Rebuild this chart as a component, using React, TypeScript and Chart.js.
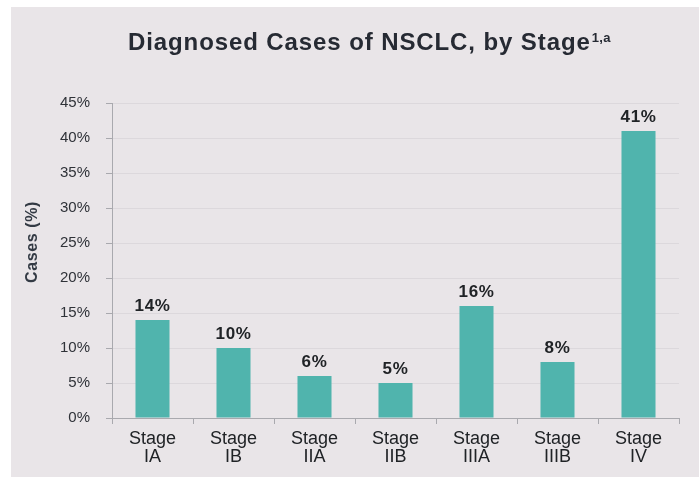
import React, { useEffect, useRef } from "react";
import { Chart, registerables } from "chart.js";

Chart.register(...registerables);

const stages: string[][] = [
  ["Stage", "IA"],
  ["Stage", "IB"],
  ["Stage", "IIA"],
  ["Stage", "IIB"],
  ["Stage", "IIIA"],
  ["Stage", "IIIB"],
  ["Stage", "IV"],
];
const casesPct: number[] = [14, 10, 6, 5, 16, 8, 41];
const yTickStep = 5;
const yMax = 45;

const TITLE = "Diagnosed Cases of NSCLC, by Stage";
const TITLE_SUP = "1,a";
const Y_TITLE = "Cases (%)";

const FONT = "'Liberation Sans', Arial, Helvetica, sans-serif";
const BAR_COLOR = "#50b4ad";
const TEXT_DARK = "#202326";
const BG = "#e9e5e8";

const textPlugin = {
  id: "slideText",
  afterDatasetsDraw(chart: any) {
    const ctx = chart.ctx as CanvasRenderingContext2D;
    const meta = chart.getDatasetMeta(0);
    ctx.save();
    ctx.fillStyle = TEXT_DARK;
    ctx.font = `bold 17px ${FONT}`;
    ctx.textAlign = "center";
    ctx.textBaseline = "alphabetic";
    (ctx as any).letterSpacing = "0.6px";
    meta.data.forEach((bar: any, i: number) => {
      ctx.fillText(`${casesPct[i]}%`, bar.x, bar.y - 9);
    });
    ctx.restore();
  },
  afterDraw(chart: any) {
    const ctx = chart.ctx as CanvasRenderingContext2D;
    ctx.save();
    // heading
    ctx.fillStyle = "#262a33";
    ctx.font = `bold 24px ${FONT}`;
    (ctx as any).letterSpacing = "0.9px";
    ctx.textAlign = "left";
    ctx.textBaseline = "alphabetic";
    const tx = 117;
    const ty = 43;
    ctx.fillText(TITLE, tx, ty);
    const w = ctx.measureText(TITLE).width;
    ctx.font = `bold 13px ${FONT}`;
    (ctx as any).letterSpacing = "0.3px";
    ctx.fillText(TITLE_SUP, tx + w + 1, ty - 8);

    // vertical axis heading
    ctx.translate(22, 235);
    ctx.rotate(-Math.PI / 2);
    ctx.textAlign = "center";
    ctx.textBaseline = "middle";
    ctx.fillStyle = "#333a44";
    ctx.font = `bold 16px ${FONT}`;
    (ctx as any).letterSpacing = "0.6px";
    ctx.fillText(Y_TITLE, 0, 0);
    ctx.restore();
  },
};

export default function App() {
  const ref = useRef<HTMLCanvasElement | null>(null);

  useEffect(() => {
    if (!ref.current) return;
    const chart = new Chart(ref.current, {
      type: "bar",
      data: {
        labels: stages,
        datasets: [
          {
            data: casesPct,
            backgroundColor: BAR_COLOR,
            borderWidth: 0,
            barPercentage: 0.42,
            categoryPercentage: 1,
          },
        ],
      },
      options: {
        animation: false,
        responsive: true,
        maintainAspectRatio: false,
        layout: { padding: { top: 96, right: 20, left: 0, bottom: 0 } },
        plugins: {
          legend: { display: false },
          tooltip: { enabled: false },
          title: { display: false },
        },
        scales: {
          x: {
            offset: true,
            grid: {
              display: true,
              drawOnChartArea: false,
              drawTicks: true,
              tickLength: 6,
              tickColor: "#a9a9ae",
            },
            border: { display: true, color: "#a9a9ae", width: 1 },
            ticks: {
              color: TEXT_DARK,
              font: { family: FONT, size: 18, lineHeight: 1.0 },
              padding: 6,
              maxRotation: 0,
              autoSkip: false,
            },
            afterFit(scale: any) {
              scale.height = 59;
            },
          },
          y: {
            min: 0,
            max: yMax,
            grid: {
              color: "#dcd8dc",
              tickColor: "#a9a9ae",
              tickLength: 6,
            },
            border: { display: true, color: "#a9a9ae", width: 1 },
            ticks: {
              stepSize: yTickStep,
              color: "#2f3238",
              font: { family: FONT, size: 15 },
              padding: 16,
              callback: (v: any) => `${v}%`,
            },
            afterFit(scale: any) {
              scale.width = 101;
            },
          },
        },
      },
      plugins: [textPlugin],
    });
    return () => chart.destroy();
  }, []);

  return (
    <div
      style={{
        position: "absolute",
        left: 11,
        top: 7,
        width: 688,
        height: 470,
        background: BG,
      }}
    >
      <canvas ref={ref} />
    </div>
  );
}
